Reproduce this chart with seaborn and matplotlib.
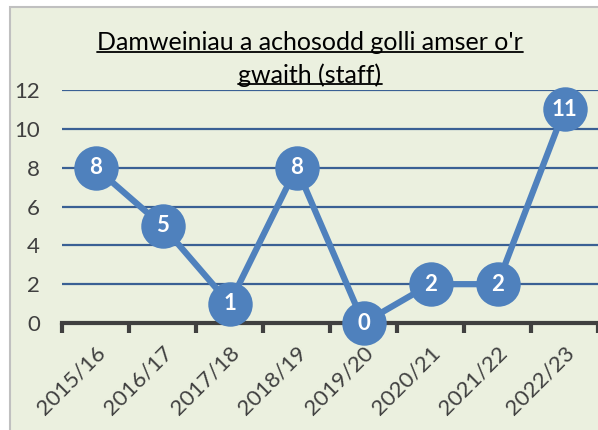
import matplotlib
matplotlib.use("Agg")
import matplotlib.pyplot as plt
from matplotlib.patches import Rectangle
from matplotlib.lines import Line2D
import seaborn as sns
import pandas as pd
import numpy as np

years = ["2015/16", "2016/17", "2017/18", "2018/19", "2019/20", "2020/21", "2021/22", "2022/23"]
accidents = [8, 5, 1, 8, 0, 2, 2, 11]
title_lines = ["Damweiniau a achosodd golli amser o'r", "gwaith (staff)"]

bg = "#EBF0DF"
blue = "#4F81BD"
grid_col = "#3A6094"
text_col = "#404040"

sns.set_theme(style="white")
plt.rcParams['font.family'] = ['Lato', 'DejaVu Sans']

fig = plt.figure(figsize=(5.98, 4.30), dpi=100)
fig.patch.set_facecolor("white")
fig.patches.append(Rectangle((10 / 598, -0.01), 1.0, 1 - 7 / 430 + 0.01, transform=fig.transFigure,
                             facecolor=bg, edgecolor="#C0C0C0", linewidth=1.5, zorder=-10))

ax = fig.add_axes([62 / 598, 1 - 323 / 430, 1 - 62 / 598, (323 - 90) / 430])
ax.set_facecolor("none")
ax.set_zorder(1)

df = pd.DataFrame({"year": years, "value": accidents})
df["pos"] = np.arange(len(years))
sns.lineplot(data=df, x="pos", y="value", ax=ax, color=blue, linewidth=4.5,
             marker="o", markersize=32, markeredgewidth=0, zorder=5)
for ln in ax.lines:
    ln.set_clip_on(False)

for x, v in zip(df["pos"], df["value"]):
    ax.text(x, v, str(v), ha="center", va="center", color="white", fontsize=16,
            fontweight="bold", zorder=6, clip_on=False)

ax.set_xlim(-0.5, len(years) - 0.5)
ax.set_ylim(0, 12)
ax.set_yticks(range(0, 13, 2))
ax.yaxis.grid(True, color=grid_col, linewidth=1.6)
ax.set_axisbelow(True)
for s in ["top", "right", "left"]:
    ax.spines[s].set_visible(False)
ax.spines["bottom"].set_color("#404040")
ax.spines["bottom"].set_linewidth(3)
ax.spines["bottom"].set_zorder(4)

ax.set_xticks(df["pos"])
ax.set_xticklabels(years, rotation=45, ha="right", rotation_mode="anchor")
ax.set_xticks(np.arange(-0.5, len(years), 1), minor=True)
ax.tick_params(axis="x", which="major", length=0, pad=14, labelsize=16, labelcolor=text_col)
ax.tick_params(axis="x", which="minor", length=7, width=3, color="#404040", direction="out", bottom=True)
ax.tick_params(axis="y", length=0, pad=16, labelsize=16, labelcolor=text_col)
ax.set_xlabel("")
ax.set_ylabel("")

# title with underline
t1 = fig.text(310 / 598, 1 - 43 / 430, title_lines[0], ha="center", va="center", fontsize=18, color="black")
t2 = fig.text(310 / 598, 1 - 75 / 430, title_lines[1], ha="center", va="center", fontsize=18, color="black")
fig.canvas.draw()
r = fig.canvas.get_renderer()
for t in (t1, t2):
    bb = t.get_window_extent(renderer=r).transformed(fig.transFigure.inverted())
    fig.lines.append(Line2D([bb.x0, bb.x1], [bb.y0 + 0.006, bb.y0 + 0.006], transform=fig.transFigure,
                            color="black", linewidth=1.3))

fig.savefig("out.png", dpi=100)
